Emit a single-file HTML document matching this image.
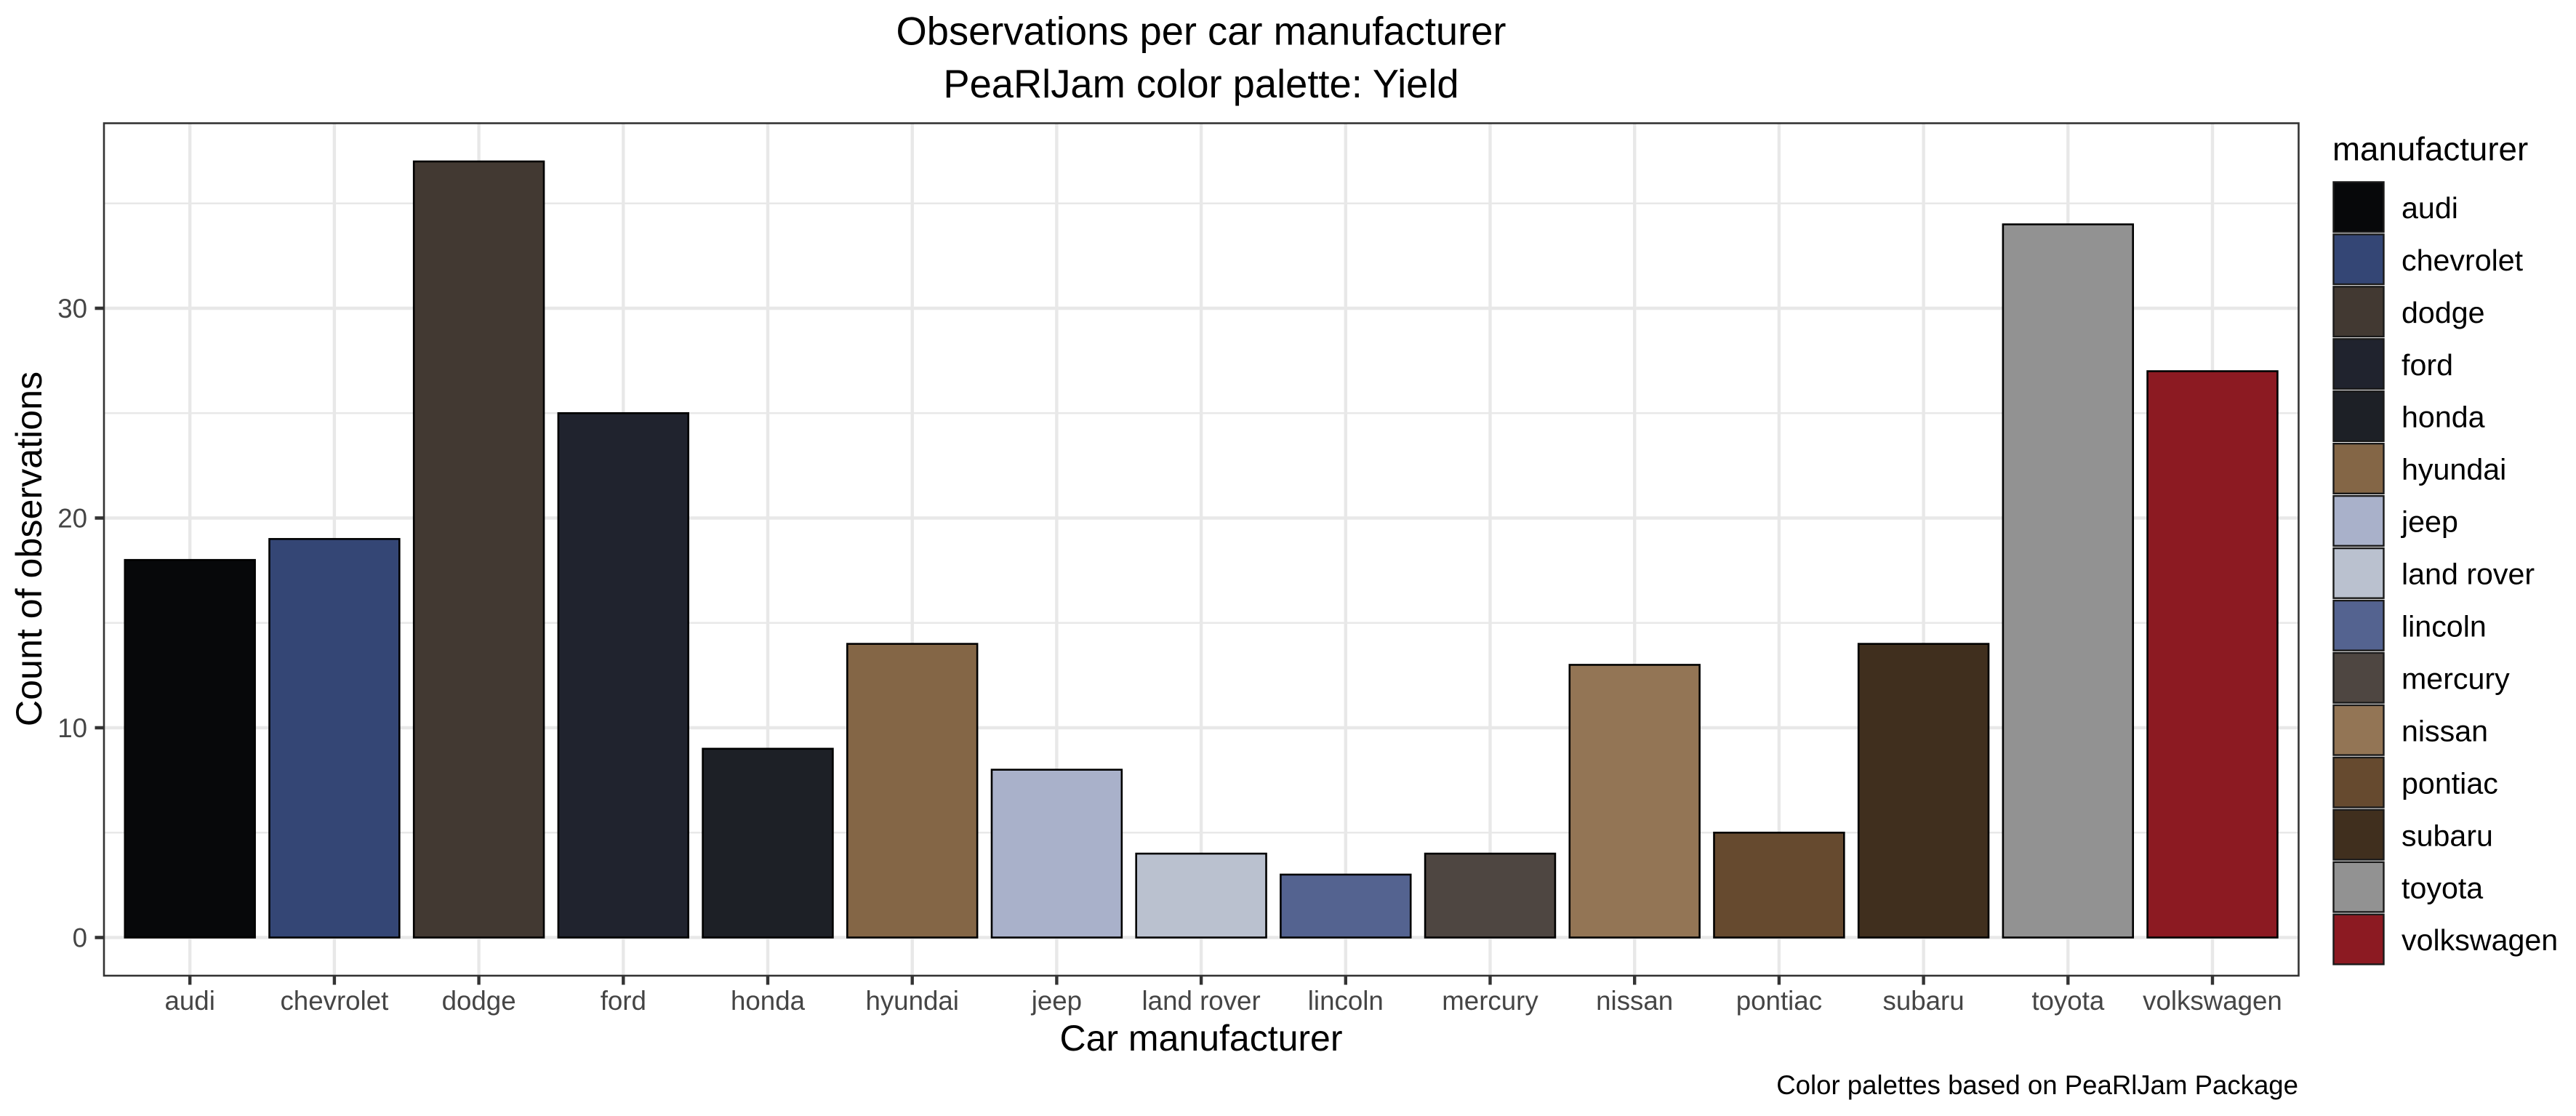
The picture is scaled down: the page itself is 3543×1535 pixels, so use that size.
<!DOCTYPE html>
<html lang="en">
<head>
<meta charset="utf-8">
<title>Observations per car manufacturer</title>
<style>
html,body{margin:0;padding:0;background:#fff;width:3543px;height:1535px;overflow:hidden}
svg{display:block;font-family:"Liberation Sans",Arial,Helvetica,sans-serif}
</style>
</head>
<body>
<svg id="chart" xmlns="http://www.w3.org/2000/svg" width="3543" height="1535" viewBox="0 0 3543 1535">
  <rect x="0" y="0" width="3543" height="1535" fill="#ffffff"/>
  <text x="1652" y="61.5" font-size="54.3" text-anchor="middle" fill="#000">Observations per car manufacturer</text>
  <text x="1652" y="134" font-size="54.3" text-anchor="middle" fill="#000">PeaRlJam color palette: Yield</text>
  <g id="grid"></g>
  <g id="bars"></g>
  <rect x="143" y="169.5" width="3018.5" height="1172.5" fill="none" stroke="#333333" stroke-width="2.6"/>
  <g id="x-axis"></g>
  <g id="y-axis"></g>
  <text x="1652" y="1445" font-size="50" text-anchor="middle" fill="#000">Car manufacturer</text>
  <text transform="translate(57 755) rotate(-90)" font-size="50.2" text-anchor="middle" fill="#000">Count of observations</text>
  <text x="3161" y="1505" font-size="36.6" text-anchor="end" fill="#000">Color palettes based on PeaRlJam Package</text>
  <g id="legend">
    <text x="3208" y="220.5" font-size="45.7" fill="#000">manufacturer</text>
  </g>
</svg>
<script>
const categories = ["audi","chevrolet","dodge","ford","honda","hyundai","jeep","land rover","lincoln","mercury","nissan","pontiac","subaru","toyota","volkswagen"];
const counts = [18,19,37,25,9,14,8,4,3,4,13,5,14,34,27];
const barColors = ["#07080a","#344675","#423932","#20232e","#1d2026","#846646","#a9b1ca","#bac1cf","#546390","#4e4641","#937555","#664a2f","#402f1e","#929292","#8c1a22"];
const yTicks = [0,10,20,30];
const yMinorTicks = [5,15,25,35];

const NS = "http://www.w3.org/2000/svg";
const panel = {left:143, right:3161.5, top:169.5, bottom:1342};
const bandStep = 198.7;
const barWidth = 0.9 * bandStep;
function xScale(i){ return 261.2 + i * bandStep; }
function yScale(v){ return 1289.5 - v * 28.85; }
function make(tag, attrs, parent, text){
  const el = document.createElementNS(NS, tag);
  for (const k in attrs) el.setAttribute(k, attrs[k]);
  if (text !== undefined) el.textContent = text;
  parent.appendChild(el);
  return el;
}
const gridG = document.getElementById("grid");
const barsG = document.getElementById("bars");
const xAxisG = document.getElementById("x-axis");
const yAxisG = document.getElementById("y-axis");
const legendG = document.getElementById("legend");

yMinorTicks.forEach(function(t){
  const l = make("line",{x1:panel.left,x2:panel.right,y1:yScale(t),y2:yScale(t),stroke:"#e8e8e8","stroke-width":2.4},gridG);
  
  
});
yTicks.forEach(function(t){
  const l = make("line",{x1:panel.left,x2:panel.right,y1:yScale(t),y2:yScale(t),stroke:"#e8e8e8","stroke-width":4.6},gridG);
  
  
  const tick = make("line",{x1:130.5,x2:panel.left,y1:yScale(t),y2:yScale(t),stroke:"#333333","stroke-width":4.6},yAxisG);
  
  
  const lab = make("text",{x:120,y:yScale(t)+13,"font-size":36.7,"text-anchor":"end",fill:"#454545"},yAxisG,String(t));
  
  
});
categories.forEach(function(c,i){
  const x = xScale(i);
  const l = make("line",{x1:x,x2:x,y1:panel.top,y2:panel.bottom,stroke:"#e8e8e8","stroke-width":4.4},gridG);
  
  

  const bar = make("rect",{x:x-barWidth/2,y:yScale(counts[i]),width:barWidth,height:yScale(0)-yScale(counts[i]),fill:barColors[i],stroke:"#000000","stroke-width":2.6},barsG);
  
  

  const tick = make("line",{x1:x,x2:x,y1:panel.bottom,y2:1354.5,stroke:"#333333","stroke-width":4.4},xAxisG);
  
  

  const lab = make("text",{x:x,y:1389,"font-size":36.7,"text-anchor":"middle",fill:"#454545"},xAxisG,c);
  
  

  const keyY = 248.7 + i * 71.95;
  const sw = make("rect",{x:3209.5,y:keyY+1.75,width:69,height:68.6,fill:barColors[i],stroke:"#1a1a1a","stroke-width":2.4},legendG);
  
  

  const lt = make("text",{x:3303,y:keyY+51.2,"font-size":41.2,fill:"#000"},legendG,c);
  
  
});
</script>
</body>
</html>
